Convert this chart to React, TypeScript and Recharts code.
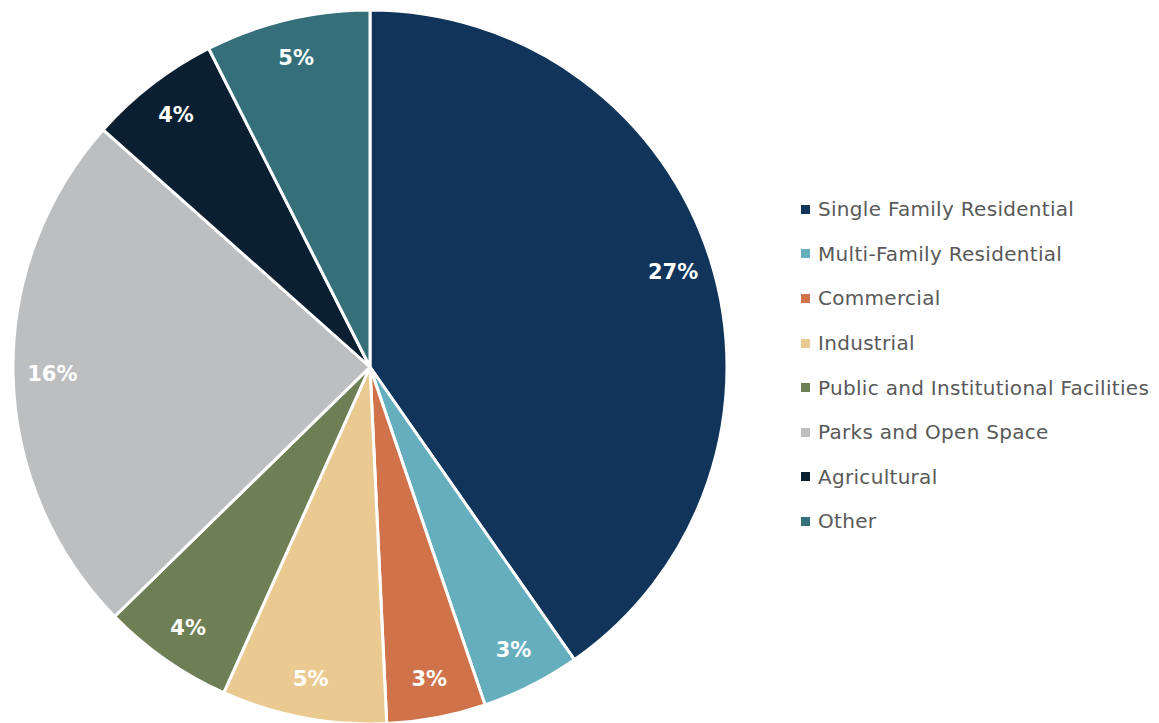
import React from 'react';
import { PieChart, Pie, Cell, Legend } from 'recharts';

const categories = [
  'Single Family Residential',
  'Multi-Family Residential',
  'Commercial',
  'Industrial',
  'Public and Institutional Facilities',
  'Parks and Open Space',
  'Agricultural',
  'Other',
];
const shares = [27, 3, 3, 5, 4, 16, 4, 5];
const colors = ['#10345A', '#65AEBE', '#D0734A', '#EBCA92', '#6E7E55', '#BDBEC0', '#0B1F33', '#35707A'];

const data = categories.map((name, i) => ({ name, value: shares[i] }));

const RADIAN = Math.PI / 180;

const renderLabel = ({ cx, cy, midAngle, outerRadius, value }: any) => {
  const r = outerRadius * 0.89;
  const x = cx + r * Math.cos(-midAngle * RADIAN);
  const y = cy + r * Math.sin(-midAngle * RADIAN);
  return (
    <text x={x} y={y} fill="#fff" textAnchor="middle" dominantBaseline="central"
      fontSize={21} fontWeight="bold" fontFamily="'DejaVu Sans', sans-serif">
      {`${value}%`}
    </text>
  );
};

const renderLegend = () => (
  <div>
    {data.map((d, i) => (
      <div key={d.name} style={{ display: 'flex', alignItems: 'center', height: 44.6 }}>
        <span style={{ width: 9, height: 9, background: colors[i], marginRight: 8, display: 'inline-block' }} />
        <span style={{ fontSize: 20, letterSpacing: 0.3, color: '#595959', fontFamily: "'DejaVu Sans', sans-serif", whiteSpace: 'nowrap' }}>
          {d.name}
        </span>
      </div>
    ))}
  </div>
);

export default function App() {
  return (
    <div style={{ position: 'absolute', left: 0, top: 0 }}>
      <PieChart width={1159} height={723} margin={{ top: 0, right: 0, bottom: 0, left: 0 }}>
        <Pie
          data={data}
          dataKey="value"
          nameKey="name"
          cx={370}
          cy={367}
          outerRadius={357}
          startAngle={90}
          endAngle={-270}
          stroke="#fff"
          strokeWidth={3}
          labelLine={false}
          label={renderLabel}
          isAnimationActive={false}
        >
          {data.map((d, i) => (
            <Cell key={d.name} fill={colors[i]} />
          ))}
        </Pie>
        <Legend content={renderLegend} wrapperStyle={{ left: 801, top: 187, width: 358 }} />
      </PieChart>
    </div>
  );
}
